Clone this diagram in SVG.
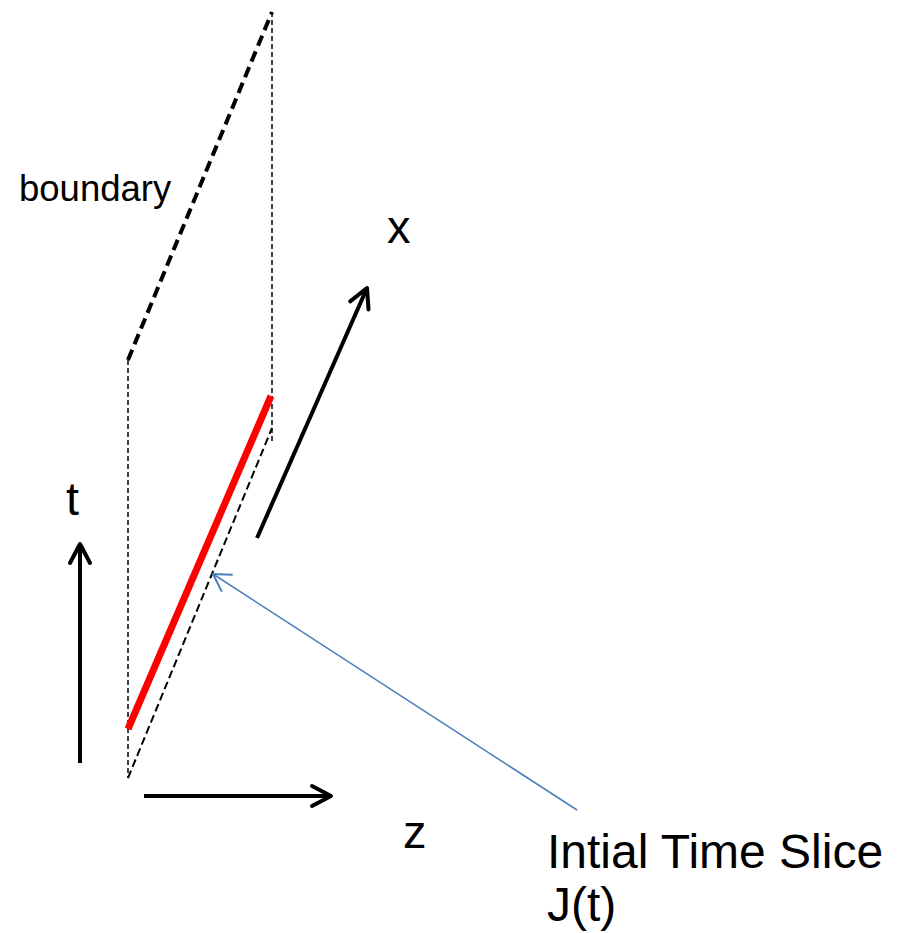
<svg xmlns="http://www.w3.org/2000/svg" width="907" height="933" viewBox="0 0 907 933">
<style>
.lbl{font-family:"Liberation Sans",Arial,sans-serif;fill:#000}
.big{font-size:47px}
.note{font-size:48px}
.small{font-size:36.5px}
.axis{stroke:#000;stroke-width:4;fill:none}
.bold-dash{stroke:#000;stroke-width:4;stroke-dasharray:11 6;fill:none}
.dot{stroke:#000;stroke-width:1.5;stroke-dasharray:5 3;fill:none}
.dash{stroke:#000;stroke-width:2;stroke-dasharray:8 4;fill:none}
</style>
<defs>
<marker id="blackHead" markerUnits="userSpaceOnUse" viewBox="-24 -14 28 28" markerWidth="28" markerHeight="28" refX="0" refY="0" orient="auto">
<path d="M-19,-10 L0,0 L-19,10" fill="none" stroke="#000" stroke-width="4" stroke-linecap="round" stroke-linejoin="round"/>
</marker>
<marker id="blueHead" markerUnits="userSpaceOnUse" viewBox="-22 -13 26 26" markerWidth="26" markerHeight="26" refX="0" refY="0" orient="auto">
<path d="M-17,-10 L0,0 L-17,10" fill="none" stroke="#4a7ebb" stroke-width="2"/>
</marker>
</defs>
<g id="boundary-plane">
<line class="bold-dash" x1="128" y1="360" x2="272" y2="12"/>
<line class="dot" x1="272" y1="12" x2="272" y2="443"/>
<line class="dot" x1="128" y1="360" x2="128" y2="778"/>
<line class="dash" x1="128" y1="778" x2="272" y2="428"/>
</g>
<g id="time-slice">
<line x1="128" y1="729" x2="271" y2="396" stroke="#ff0000" stroke-width="7"/>
</g>
<g id="connectors">
<line id="axis-t" class="axis" x1="80" y1="763" x2="80" y2="544" marker-end="url(#blackHead)"/>
<line id="axis-z" class="axis" x1="144" y1="796" x2="331" y2="796" marker-end="url(#blackHead)"/>
<line id="axis-x" class="axis" x1="257" y1="538" x2="367" y2="288" marker-end="url(#blackHead)"/>
<line id="pointer" x1="577" y1="810" x2="213" y2="574" stroke="#4a7ebb" stroke-width="1.5" marker-end="url(#blueHead)"/>
</g>
<g id="labels">
<text class="lbl small" x="19" y="201">boundary</text>
<text class="lbl big" x="387" y="243">x</text>
<text class="lbl big" x="66" y="515">t</text>
<text class="lbl big" x="403" y="848">z</text>
<text class="lbl note" x="547" y="868">Intial Time Slice</text>
<text class="lbl note" x="547" y="921">J(t)</text>
</g>
</svg>
